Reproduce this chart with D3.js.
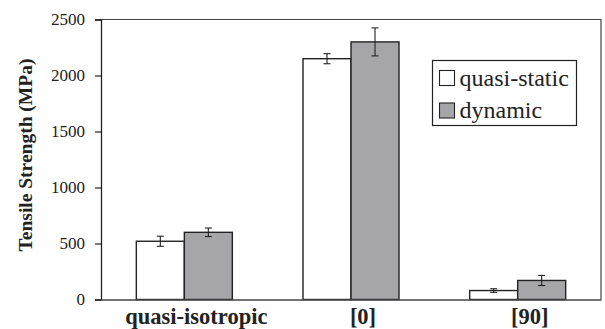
<!DOCTYPE html>
<html>
<head>
<meta charset="utf-8">
<script src="https://cdn.jsdelivr.net/npm/d3@7"></script>
<style>
  html, body { margin: 0; padding: 0; background: #fff; }
  svg { display: block; }
</style>
</head>
<body>
<svg id="chart" width="605" height="329"></svg>
<script>
// Tensile strength by laminate lay-up, quasi-static vs dynamic loading
const categories = ["quasi-isotropic", "[0]", "[90]"];
const seriesNames = ["quasi-static", "dynamic"];
const quasiStatic = [520, 2150, 80];
const quasiStaticErr = [45, 45, 16];
const dynamic = [600, 2300, 170];
const dynamicErr = [38, 125, 45];
const yTicks = [0, 500, 1000, 1500, 2000, 2500];

const colors = { "quasi-static": "#ffffff", "dynamic": "#a6a6a9" };
const ink = "#222222";
const serif = "Liberation Serif";

const svg = d3.select("#chart");
const plot = { left: 101, right: 601, top: 19.5, bottom: 299.5 };

const x0 = d3.scaleBand().domain(categories).range([plot.left, plot.right]).padding(0);
const x1 = d3.scaleBand().domain(seriesNames).range([0, x0.bandwidth()])
  .paddingInner(0).paddingOuter(0.736);
const y = d3.scaleLinear().domain([0, 2500]).range([plot.bottom, plot.top]);

const rows = categories.map((c, i) => ({
  category: c,
  bars: [
    { series: "quasi-static", value: quasiStatic[i], err: quasiStaticErr[i] },
    { series: "dynamic", value: dynamic[i], err: dynamicErr[i] }
  ]
}));

// plot frame: top and right edges
svg.append("path")
  .attr("d", `M${plot.left},${plot.top}H${plot.right}V${plot.bottom}`)
  .attr("fill", "none").attr("stroke", "#444").attr("stroke-width", 1.2);

// grouped bars
const groups = svg.selectAll("g.cat").data(rows).join("g")
  .attr("class", "cat")
  .attr("transform", d => `translate(${x0(d.category)},0)`);

groups.selectAll("rect").data(d => d.bars).join("rect")
  .attr("x", d => x1(d.series))
  .attr("y", d => y(d.value))
  .attr("width", x1.bandwidth())
  .attr("height", d => y(0) - y(d.value))
  .attr("fill", d => colors[d.series])
  .attr("stroke", ink).attr("stroke-width", 1.4);

// error bars with caps
const eb = groups.selectAll("g.err").data(d => d.bars).join("g")
  .attr("class", "err")
  .attr("transform", d => `translate(${x1(d.series) + x1.bandwidth() / 2},0)`)
  .attr("stroke", ink).attr("stroke-width", 1.1);
eb.append("line").attr("x1", 0).attr("x2", 0)
  .attr("y1", d => y(d.value + d.err)).attr("y2", d => y(d.value - d.err));
eb.append("line").attr("x1", -3.5).attr("x2", 3.5)
  .attr("y1", d => y(d.value + d.err)).attr("y2", d => y(d.value + d.err));
eb.append("line").attr("x1", -3.5).attr("x2", 3.5)
  .attr("y1", d => y(d.value - d.err)).attr("y2", d => y(d.value - d.err));

// y axis
const yAxis = svg.append("g")
  .attr("transform", `translate(${plot.left},0)`)
  .call(d3.axisLeft(y).tickValues(yTicks).tickSize(6).tickPadding(10).tickFormat(d3.format("d")));
yAxis.attr("font-family", serif);
yAxis.select(".domain").attr("stroke", ink).attr("stroke-width", 1.3);
yAxis.selectAll(".tick line").attr("stroke", ink).attr("stroke-width", 1.2);
yAxis.selectAll(".tick text").attr("font-size", 17).attr("fill", "#222");

// x axis baseline and category labels
const xAxis = svg.append("g")
  .attr("transform", `translate(0,${plot.bottom})`)
  .call(d3.axisBottom(x0).tickSize(0).tickPadding(8));
xAxis.attr("font-family", serif);
xAxis.select(".domain").attr("stroke", "#444").attr("stroke-width", 1.3);
xAxis.selectAll(".tick text")
  .attr("dx", 12).attr("dy", "0.72em")
  .attr("font-size", 22.5).attr("font-weight", "bold").attr("fill", "#222");

// y axis title
svg.append("text")
  .attr("transform", `translate(32,155) rotate(-90)`)
  .attr("text-anchor", "middle")
  .attr("font-family", serif)
  .attr("font-size", 19.5).attr("font-weight", "bold").attr("fill", "#222")
  .text("Tensile Strength (MPa)");

// legend
const legend = svg.append("g").attr("transform", "translate(432.5,60.5)");
legend.append("rect").attr("width", 144).attr("height", 65)
  .attr("fill", "#fff").attr("stroke", ink).attr("stroke-width", 1.2);
const items = legend.selectAll("g.item").data(seriesNames).join("g")
  .attr("class", "item")
  .attr("transform", (d, i) => `translate(7,${10 + i * 32.5})`);
items.append("rect").attr("width", 15).attr("height", 15)
  .attr("fill", d => colors[d]).attr("stroke", ink).attr("stroke-width", 1.1);
items.append("text").attr("x", 20).attr("y", 15)
  .attr("font-family", serif)
  .attr("font-size", 24).attr("fill", "#222")
  .text(d => d);
</script>
</body>
</html>
